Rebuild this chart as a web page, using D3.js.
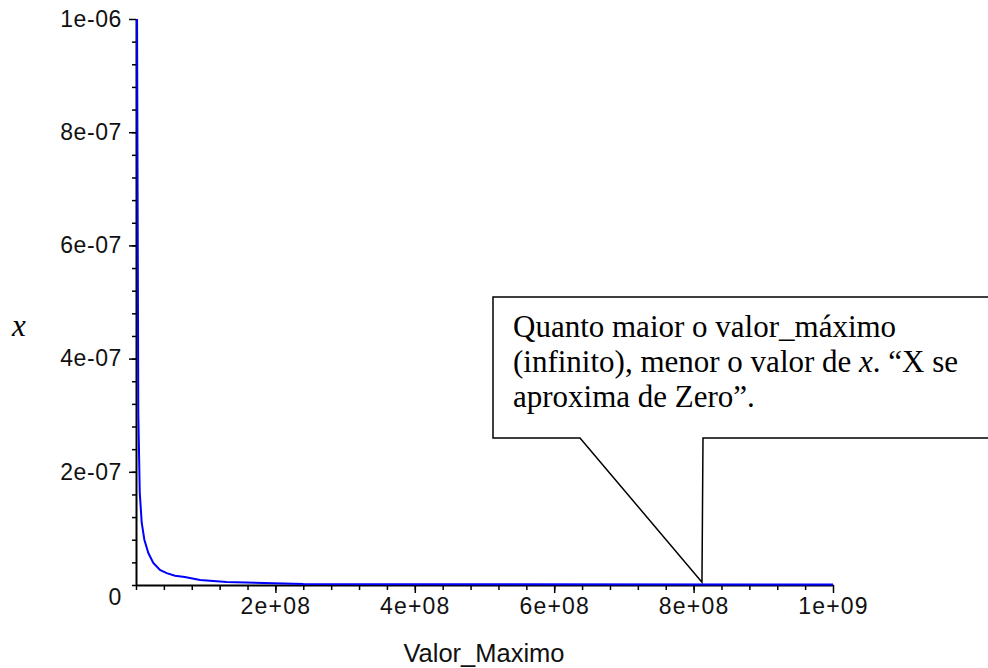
<!DOCTYPE html>
<html>
<head>
<meta charset="utf-8">
<script src="https://cdn.jsdelivr.net/npm/d3@7"></script>
<style>
  html, body { margin: 0; padding: 0; background: #fff; }
  svg { display: block; }
  .tick text { font-family: "Liberation Sans", Arial, sans-serif; font-size: 23px; fill: #111; letter-spacing: 0.6px; }
</style>
</head>
<body>
<svg id="chart" width="988" height="668"></svg>
<script>
// sampled points of the curve (Valor_Maximo, x)
const valorMaximo = [1.5e6, 3.3e6, 5.4e6, 8.2e6, 1.2e7, 1.77e7, 2.48e7, 3.44e7, 4.4e7, 5.6e7, 7.0e7, 9.2e7, 1.3e8, 2.4e8, 5.0e8, 1.0e9];
const xValues = [1.0e-6, 3.04e-7, 1.63e-7, 1.1e-7, 8.0e-8, 5.65e-8, 3.9e-8, 2.65e-8, 2.1e-8, 1.65e-8, 1.4e-8, 8.8e-9, 5.3e-9, 1.8e-9, 1.2e-9, 1.0e-9];

const xTicks = [2e8, 4e8, 6e8, 8e8, 1e9];
const xTickLabels = ['2e+08', '4e+08', '6e+08', '8e+08', '1e+09'];
const yTicks = [0, 2e-7, 4e-7, 6e-7, 8e-7, 1e-6];
const yTickLabels = ['0', '2e-07', '4e-07', '6e-07', '8e-07', '1e-06'];
const xMinor = d3.range(0, 25).map(i => i * 4e7);
const yMinor = d3.range(0, 25).map(i => i * 4e-8);

const noteLines = ['Quanto maior o valor_máximo', '(infinito), menor o valor de ', 'aproxima de Zero”.'];

const svg = d3.select('#chart');
const x = d3.scaleLinear().domain([0, 1e9]).range([136, 833]);
const y = d3.scaleLinear().domain([0, 1e-6]).range([585, 19]);

// minor ticks first
svg.append('g').attr('transform', 'translate(0,585)')
  .call(d3.axisBottom(x).tickValues(xMinor).tickSize(5).tickFormat(''))
  .call(g => g.select('.domain').remove())
  .call(g => g.selectAll('line').attr('stroke', '#000').attr('stroke-width', 1.5));
svg.append('g').attr('transform', 'translate(136,0)')
  .call(d3.axisLeft(y).tickValues(yMinor).tickSize(4).tickFormat(''))
  .call(g => g.select('.domain').remove())
  .call(g => g.selectAll('line').attr('stroke', '#000').attr('stroke-width', 1.5));

const xAxis = svg.append('g').attr('transform', 'translate(0,585)')
  .call(d3.axisBottom(x).tickValues(xTicks).tickSize(8).tickSizeOuter(0).tickPadding(5)
    .tickFormat((d, i) => xTickLabels[i]));
xAxis.select('.domain').attr('stroke', '#000').attr('stroke-width', 2);
xAxis.selectAll('line').attr('stroke', '#000').attr('stroke-width', 1.5);
xAxis.selectAll('.tick text').style('letter-spacing', '1.2px');

const yAxis = svg.append('g').attr('transform', 'translate(136,0)')
  .call(d3.axisLeft(y).tickValues(yTicks).tickSize(7).tickSizeOuter(0).tickPadding(7)
    .tickFormat((d, i) => yTickLabels[i]));
yAxis.select('.domain').attr('stroke', '#000').attr('stroke-width', 2);
yAxis.selectAll('line').attr('stroke', '#000').attr('stroke-width', 1.5);
// the zero label sits below the corner
yAxis.selectAll('.tick').filter(d => d === 0).select('line').remove();
yAxis.selectAll('.tick').filter(d => d === 0).select('text').attr('dy', '0.85em');

// curve
const pts = valorMaximo.map((v, i) => [v, xValues[i]]);
svg.append('path')
  .datum(pts)
  .attr('fill', 'none')
  .attr('stroke', '#0000ff')
  .attr('stroke-width', 2)
  .attr('d', d3.line().x(d => x(d[0])).y(d => y(d[1])));

// axis titles
svg.append('text')
  .attr('x', 12).attr('y', 336)
  .style('font-family', '"Liberation Serif", "Times New Roman", serif')
  .style('font-style', 'italic').style('font-size', '31px')
  .text('x');
svg.append('text')
  .attr('x', 484).attr('y', 662)
  .attr('text-anchor', 'middle')
  .style('font-family', '"Liberation Sans", Arial, sans-serif')
  .style('font-size', '25.5px').style('fill', '#111')
  .text('Valor_Maximo');

// callout
const tip = [x(8.12e8), y(5e-9)];
const callout = svg.append('g');
callout.append('path')
  .attr('d', 'M580,438 L493,438 L493,297 L1000,297 L1000,438 L703,438 L' + tip[0] + ',' + tip[1] + ' Z')
  .attr('fill', '#fff').attr('stroke', '#000').attr('stroke-width', 1.5)
  .attr('stroke-linejoin', 'miter');

const note = callout.append('text')
  .style('font-family', '"Liberation Serif", "Times New Roman", serif')
  .style('font-size', '31px').style('fill', '#000');
note.append('tspan').attr('x', 513).attr('y', 337).text(noteLines[0]);
note.append('tspan').attr('x', 513).attr('y', 372).text(noteLines[1]);
note.append('tspan').style('font-style', 'italic').text('x');
note.append('tspan').text('. “X se');
note.append('tspan').attr('x', 513).attr('y', 407).text(noteLines[2]);
</script>
</body>
</html>
